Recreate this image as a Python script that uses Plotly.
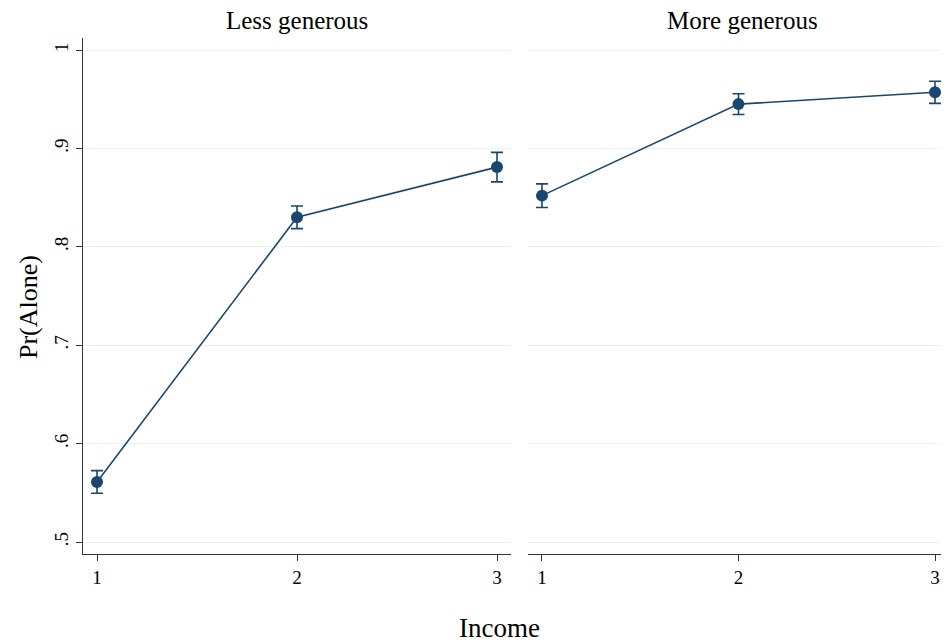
import plotly.graph_objects as go

income = [1, 2, 3]
less_vals = [0.561, 0.830, 0.881]
less_err = [0.0115, 0.0115, 0.015]
more_vals = [0.852, 0.945, 0.957]
more_err = [0.012, 0.0105, 0.0112]
panel_titles = ["Less generous", "More generous"]
y_ticks = [0.5, 0.6, 0.7, 0.8, 0.9, 1.0]
y_ticklabels = [".5", ".6", ".7", ".8", ".9", "1"]

navy = "#1a476f"
font = "Liberation Serif"
OFF = 8  # page body margin
W, H = 949 - 2 * OFF, 643 - OFF


def px(x):
    return (x - OFF) / W


def py(y):
    return 1 - (y - OFF) / H


fig = go.Figure()
for vals, errs, xa, ya in [(less_vals, less_err, "x", "y"), (more_vals, more_err, "x2", "y2")]:
    fig.add_trace(go.Scatter(
        x=income, y=vals, mode="lines+markers", xaxis=xa, yaxis=ya,
        line=dict(color=navy, width=1.6),
        marker=dict(color=navy, size=12),
        error_y=dict(type="data", array=errs, visible=True, color=navy, thickness=1.6, width=6),
        showlegend=False,
    ))

ydom = [py(554), py(38)]
yrange = [0.4878, 1.0122]
common_y = dict(range=yrange, domain=ydom, tickvals=y_ticks, showgrid=True,
                gridcolor="#eaf2f3", gridwidth=1, zeroline=False)
xcommon = dict(tickvals=income, ticktext=[str(v) for v in income], showgrid=False,
               zeroline=False, showline=True, linecolor="#333333", linewidth=1.2,
               ticks="outside", ticklen=6, tickcolor="#333333",
               tickfont=dict(size=19, family=font))
fig.update_layout(
    width=W, height=H, margin=dict(l=0, r=0, t=0, b=0),
    paper_bgcolor="white", plot_bgcolor="white",
    font=dict(family=font, color="black", size=19),
    xaxis=dict(domain=[px(83), px(511)], range=[0.93, 3.07], anchor="y", **xcommon),
    xaxis2=dict(domain=[px(528), 1.0], range=[0.9288, 3.0305], anchor="y2", **xcommon),
    yaxis=dict(**common_y, ticktext=y_ticklabels, showline=True, linecolor="#333333",
               linewidth=1.2, ticks="outside", ticklen=6, tickcolor="#333333",
               tickangle=-90, tickfont=dict(size=19, family=font), anchor="x"),
    yaxis2=dict(**common_y, showticklabels=False, showline=False, ticks="", anchor="x2"),
)

annotations = [
    dict(text=panel_titles[0], x=px(297), y=py(20), xref="paper", yref="paper",
         showarrow=False, font=dict(size=25, family=font), xanchor="center", yanchor="middle"),
    dict(text=panel_titles[1], x=px(742), y=py(20), xref="paper", yref="paper",
         showarrow=False, font=dict(size=25, family=font), xanchor="center", yanchor="middle"),
    dict(text="Income", x=px(500), y=py(628), xref="paper", yref="paper",
         showarrow=False, font=dict(size=27, family=font), xanchor="center", yanchor="middle"),
    dict(text="Pr(Alone)", x=px(28), y=py(307), xref="paper", yref="paper",
         showarrow=False, textangle=-90, font=dict(size=26, family=font),
         xanchor="center", yanchor="middle"),
]
fig.update_layout(annotations=annotations)

fig.write_html("out.html")
